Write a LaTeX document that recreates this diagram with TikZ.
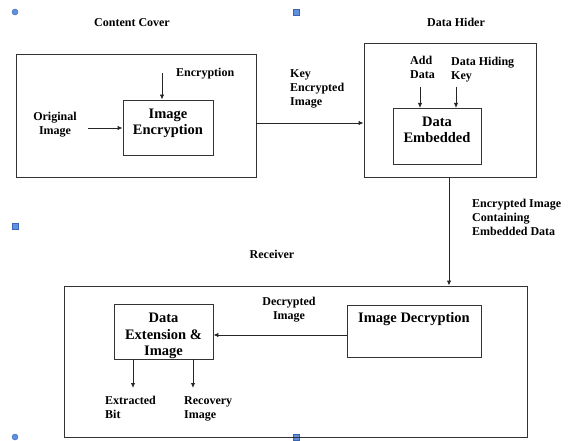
\documentclass[tikz,border=0pt]{standalone}
\usepackage{fontspec}
\setmainfont{Liberation Serif}
\usetikzlibrary{arrows.meta}
\definecolor{hfill}{RGB}{95,145,225}
\definecolor{hdraw}{RGB}{60,100,180}
\begin{document}
\begin{tikzpicture}[x=1pt,y=-1pt,
  box/.style={draw=black!80, line width=0.9pt, inner sep=0pt},
  conn/.style={line width=0.9pt, draw=black!85},
  arr/.style={conn, -{Latex[length=5pt,width=4.5pt]}},
  lbl/.style={font=\fontsize{12pt}{14pt}\selectfont\bfseries, inner sep=0pt, align=left},
  lblc/.style={lbl, align=center},
  boxtxt/.style={font=\fontsize{14.5pt}{17pt}\selectfont\bfseries, align=center},
  hcirc/.style={circle, fill=hfill, draw=hdraw, line width=0.4pt, minimum size=6pt, inner sep=0pt},
  hsq/.style={rectangle, fill=hfill, draw=hdraw, line width=0.4pt, minimum size=6.5pt, inner sep=0pt}]
\useasboundingbox (0,0) rectangle (573,441);
% selection handles
\node[hcirc] (h1) at (15,12) {};
\node[hsq] (h2) at (296,12) {};
\node[hsq] (h3) at (15,226) {};
\node[hcirc] (h4) at (15,437) {};
\node[hsq] (h5) at (296,437) {};
% Content Cover
\node[box, minimum width=240pt, minimum height=123pt] (cc) at (136,115.5) {};
\node[lblc] (cct) at (132,22.5) {Content Cover};
\node[box, minimum width=90pt, minimum height=55pt] (ie) at (168,127.5) {};
\node[boxtxt, anchor=north, inner sep=0pt] (iet) at (168,108.5) {Image\\[-0.5pt]Encryption};
\node[lbl, anchor=west] (enc) at (176,74) {Encryption};
\coordinate (encs) at (162,73);
\draw[arr] (encs) -- (encs |- ie.north);
\node[lblc] (oi) at (55,125) {Original\\Image};
\coordinate (ois) at (88,128);
\draw[arr] (ois) -- (ois -| ie.west);
% Data Hider
\node[box, minimum width=172pt, minimum height=134pt] (dh) at (450,110) {};
\node[lblc] (dht) at (456,22.5) {Data Hider};
\node[box, minimum width=88pt, minimum height=56pt, anchor=north] (de) at (437,108) {};
\node[boxtxt, anchor=north, inner sep=0pt] (det) at (437,116.5) {Data\\[-1pt]Embedded};
\node[lbl, anchor=north west] (ad) at (410,56) {Add\\Data};
\node[lbl, anchor=north west] (dhk) at (451,56.5) {Data Hiding\\Key};
\coordinate (ads) at (420,87);
\coordinate (dhks) at (456,87);
\draw[arr] (ads) -- (ads |- de.north);
\draw[arr] (dhks) -- (dhks |- de.north);
% key encrypted image
\node[lbl, anchor=north west] (kei) at (290,69) {Key\\Encrypted\\Image};
\coordinate (ky) at (0,123);
\draw[arr] (cc.east |- ky) -- (dh.west |- ky);
% Encrypted image containing embedded data
\node[lbl, anchor=north west] (eic) at (472,199) {Encrypted Image\\Containing\\Embedded Data};
% Receiver
\node[box, minimum width=463pt, minimum height=151pt] (rc) at (295.5,361.5) {};
\node[lblc] (rct) at (272,254) {Receiver};
\draw[arr] (dh.south -| 449,0) -- (rc.north -| 449,0);
\node[box, minimum width=134pt, minimum height=52pt] (id) at (414,331) {};
\node[boxtxt, anchor=north, inner sep=0pt] (idt) at (414,312) {Image Decryption};
\node[box, minimum width=99pt, minimum height=55pt] (dx) at (163.5,331.5) {};
\node[boxtxt, anchor=north, inner sep=0pt] (dxt) at (163.5,313) {Data\\[-0.5pt]Extension \&\\[-0.5pt]Image};
\coordinate (dy) at (0,335);
\draw[arr] (id.west |- dy) -- (dx.east |- dy);
\node[lblc] (di) at (289,309.5) {Decrypted\\Image};
\coordinate (ebs) at (133,359);
\coordinate (ris) at (193,359);
\coordinate (ebe) at (133,388);
\coordinate (rie) at (193,388);
\draw[arr] (ebs) -- (ebe);
\draw[arr] (ris) -- (rie);
\node[lbl, anchor=north west] (eb) at (105,396) {Extracted\\Bit};
\node[lbl, anchor=north west] (ri) at (184,396) {Recovery\\Image};
\end{tikzpicture}
\end{document}
